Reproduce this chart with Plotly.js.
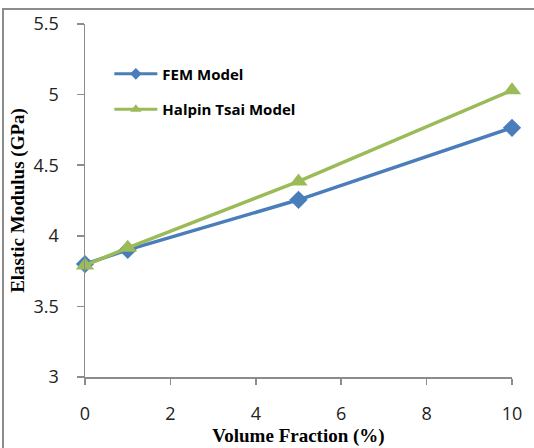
<!DOCTYPE html>
<html>
<head>
<meta charset="utf-8">
<script src="https://cdn.plot.ly/plotly-3.0.1.min.js"></script>
<style>
html,body{margin:0;padding:0;background:#fff;}
#wrap{position:relative;width:534px;height:448px;overflow:hidden;}
#frame{position:absolute;left:2px;top:8px;width:600px;height:600px;border:2px solid #8c8c8c;box-sizing:border-box;pointer-events:none;z-index:5;}
#chart{position:absolute;left:0;top:0;width:534px;height:448px;}
</style>
</head>
<body>
<div id="wrap"><div id="chart"></div><div id="frame"></div></div>
<script>
const volumeFraction = [0, 1, 5, 10];
const femModel = [3.80, 3.90, 4.255, 4.765];
const halpinTsai = [3.79, 3.915, 4.385, 5.03];
const seriesNames = ["FEM Model", "Halpin Tsai Model"];
const seriesColors = ['#4a7ebb', '#9bbb59'];
const seriesSymbols = ['diamond', 'triangle-up'];
const xTicks = [0, 2, 4, 6, 8, 10];
const yTicks = [3, 3.5, 4, 4.5, 5, 5.5];

const seriesValues = [femModel, halpinTsai];
const markerSizes = [14, 16];
const legendMarkerSizes = [9, 10];
const traces = [];
seriesValues.forEach((vals, i) => {
  traces.push({x: volumeFraction, y: vals, name: seriesNames[i], type: 'scatter', mode: 'lines+markers',
    showlegend: false, cliponaxis: false,
    line: {color: seriesColors[i], width: 3.5},
    marker: {symbol: seriesSymbols[i], size: markerSizes[i], color: seriesColors[i]}});
});
// legend entries (no data points, drawn only in the legend with smaller markers)
seriesValues.forEach((vals, i) => {
  traces.push({x: [null], y: [null], name: '<b>' + seriesNames[i] + '</b>', type: 'scatter', mode: 'lines+markers',
    legendgroup: 'g' + i, showlegend: true,
    line: {color: seriesColors[i], width: 3},
    marker: {symbol: seriesSymbols[i], size: legendMarkerSizes[i], color: seriesColors[i]}});
});

const layout = {
  width: 534, height: 448,
  margin: {l: 85, r: 22, t: 24, b: 71},
  paper_bgcolor: '#fff', plot_bgcolor: '#fff',
  showlegend: true,
  legend: {x: 0.057, y: 0.905, xanchor: 'left', yanchor: 'top', itemwidth: 43,
    bgcolor: 'rgba(0,0,0,0)', traceorder: 'grouped', tracegroupgap: 13,
    font: {family: 'Open Sans, Liberation Sans, sans-serif', size: 15, color: '#000'}},
  xaxis: {range: [0, 10], tickvals: xTicks, ticktext: xTicks.map(String),
    showgrid: false, zeroline: false, showline: true, linecolor: '#8c8c8c', linewidth: 1.5,
    ticks: 'outside', ticklen: 6, tickcolor: '#8c8c8c', tickwidth: 1.5, ticklabelstandoff: 14,
    tickfont: {family: 'Open Sans, Liberation Sans, sans-serif', size: 18, color: '#222'},
    title: {text: '<b>Volume Fraction (%)</b>', standoff: 0,
      font: {family: 'Liberation Serif, Times New Roman, serif', size: 19, color: '#000'}}},
  yaxis: {range: [3, 5.5], tickvals: yTicks, ticktext: yTicks.map(String),
    showgrid: false, zeroline: false, showline: true, linecolor: '#8c8c8c', linewidth: 1.5,
    ticks: 'outside', ticklen: 7, tickcolor: '#8c8c8c', tickwidth: 1.5, ticklabelstandoff: 14,
    tickfont: {family: 'Open Sans, Liberation Sans, sans-serif', size: 18, color: '#222'},
    title: {text: '<b>Elastic Modulus (GPa)</b>', standoff: 4,
      font: {family: 'Liberation Serif, Times New Roman, serif', size: 19, color: '#000'}}}
};

Plotly.newPlot('chart', traces, layout, {displayModeBar: false, staticPlot: true});
</script>
</body>
</html>
